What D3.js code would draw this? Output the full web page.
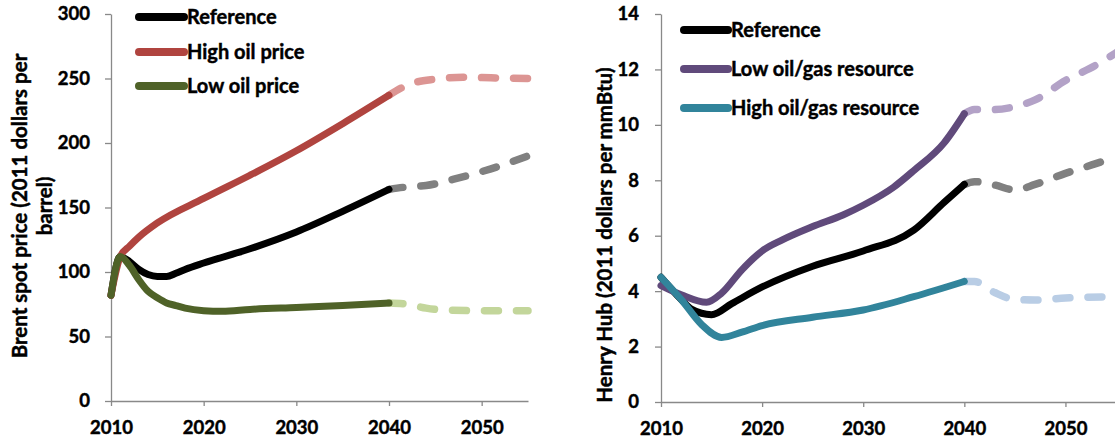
<!DOCTYPE html>
<html><head><meta charset="utf-8">
<script src="https://cdn.jsdelivr.net/npm/d3@7"></script>
<style>
html,body{margin:0;padding:0;background:#fff;overflow:hidden;}
svg{display:block;font-family:Lato,"Open Sans",sans-serif;font-weight:700;}
svg text{stroke:#000;stroke-width:0.45px;}
</style></head><body>
<svg id="chart" width="1115" height="442"></svg>
<script>
// ---------- Left panel: Brent spot price ----------
const xTicks = [2010, 2020, 2030, 2040, 2050];
const oilTicks = [0, 50, 100, 150, 200, 250, 300];
const oilLegend = ["Reference", "High oil price", "Low oil price"];
const oilTitle = ["Brent spot price (2011 dollars per", "barrel)"];

const refOilYears = [2010, 2011, 2012, 2013, 2014, 2015, 2016, 2017, 2018, 2020, 2025, 2030, 2035, 2040];
const refOil      = [82,   112,  108,  102,  98,   96.5, 96.5, 99,   102,  107,  118,  131,  147,  164];
const highOilYears = [2010, 2011, 2012, 2013, 2015, 2020, 2025, 2030, 2035, 2040];
const highOil      = [82,   112,  120,  127,  138,  157,  175,  194,  215,  237];
const lowOilYears = [2010, 2011, 2012, 2013, 2014, 2015, 2016, 2017, 2018, 2020, 2022, 2025, 2030, 2035, 2040];
const lowOil      = [82,   112,  105,  94,   85,   80,   76,   74,   72,   70,   69.5, 71,   72.5, 74,   76];

const refOilProjYears = [2040, 2042, 2044, 2047, 2051, 2055];
const refOilProj      = [164,  166,  167,  172,  180,  190];
const highOilProjYears = [2040, 2042, 2045, 2048, 2051, 2055];
const highOilProj      = [237,  245,  249.5, 251, 250.5, 250];
const lowOilProjYears = [2040, 2042, 2044, 2046, 2050, 2055];
const lowOilProj      = [76,   75,   72,   70.5, 70,   70];

// ---------- Right panel: Henry Hub ----------
const gasTicks = [0, 2, 4, 6, 8, 10, 12, 14];
const gasLegend = ["Reference", "Low oil/gas resource", "High oil/gas resource"];
const gasTitle = ["Henry Hub (2011 dollars per mmBtu)"];

const refGasYears = [2010, 2012, 2013, 2015, 2017, 2020, 2025, 2030, 2035, 2038, 2040];
const refGas      = [4.5,  3.7,  3.35, 3.15, 3.55, 4.15, 4.9,  5.45, 6.2,  7.2,  7.85];
const lowGasYears = [2010, 2012, 2014.5, 2016, 2018, 2020, 2022, 2025, 2028, 2030, 2033, 2035, 2038, 2040];
const lowGas      = [4.2,  3.87, 3.6,    3.93, 4.77, 5.45, 5.85, 6.33, 6.75, 7.1,  7.75, 8.35, 9.35, 10.4];
const highGasYears = [2010, 2012, 2014, 2016, 2018, 2020, 2025, 2030, 2035, 2040];
const highGas      = [4.5,  3.7,  2.8,  2.33, 2.52, 2.76, 3.06, 3.32, 3.8,  4.35];

const refGasProjYears = [2040, 2041, 2043, 2045, 2047, 2050, 2053, 2055];
const refGasProj      = [7.85, 7.95, 7.83, 7.65, 7.85, 8.25, 8.6,  8.85];
const lowGasProjYears = [2040, 2041, 2043, 2045, 2047, 2050, 2053, 2055];
const lowGasProj      = [10.4, 10.55, 10.55, 10.66, 10.9, 11.6, 12.15, 12.6];
const highGasProjYears = [2040, 2041, 2043, 2045, 2047, 2050, 2055];
const highGasProj      = [4.35, 4.35, 3.95, 3.7,  3.68, 3.75, 3.8];

const zip = (xs, ys) => xs.map((x, i) => [x, ys[i]]);
const svg = d3.select("#chart");

function panel(cfg) {
  const x = d3.scaleLinear().domain([2010, 2055]).range(cfg.xr);
  const y = d3.scaleLinear().domain(cfg.yd).range(cfg.yr);
  const g = svg.append("g");
  const axisColor = "#898989";

  const yAxis = g.append("g").attr("transform", `translate(${cfg.xr[0]},0)`)
    .call(d3.axisLeft(y).tickValues(cfg.yTicks).tickSize(6).tickSizeOuter(0).tickPadding(cfg.yPad));
  const xAxis = g.append("g").attr("transform", `translate(0,${cfg.yr[0]})`)
    .call(d3.axisBottom(x).tickValues(xTicks).tickSize(5).tickSizeOuter(0).tickFormat(d3.format("d")));
  [yAxis, xAxis].forEach(a => {
    a.select(".domain").attr("stroke", axisColor).attr("stroke-width", 1.3);
    a.selectAll(".tick line").attr("stroke", axisColor).attr("stroke-width", 1.3);
    a.selectAll("text").attr("fill", "#000").style("font-size", "18.5px").style("font-family", "Lato, sans-serif").style("font-weight", 700);
  });
  xAxis.selectAll("text").attr("y", 27).attr("dy", "0.35em");

  const line = d3.line().x(d => x(d[0])).y(d => y(d[1])).curve(d3.curveMonotoneX);

  cfg.series.forEach(s => {
    g.append("path").datum(s.proj).attr("d", line).attr("fill", "none")
      .attr("stroke", s.light).attr("stroke-width", 7.5).attr("stroke-linecap", "round")
      .attr("stroke-dasharray", "14,18");
  });
  cfg.series.forEach(s => {
    g.append("path").datum(s.data).attr("d", line).attr("fill", "none")
      .attr("stroke", s.color).attr("stroke-width", 7).attr("stroke-linecap", "round")
      .attr("stroke-linejoin", "round");
  });

  // legend
  const lg = g.append("g");
  cfg.legend.forEach((name, i) => {
    const ly = cfg.legY[i];
    lg.append("line").attr("x1", cfg.legX[0]).attr("x2", cfg.legX[1]).attr("y1", ly).attr("y2", ly)
      .attr("stroke", cfg.series[i].color).attr("stroke-width", 8).attr("stroke-linecap", "round");
    lg.append("text").attr("x", cfg.legX[1] + 3).attr("y", ly).attr("dy", "0.35em")
      .style("font-size", "20px").attr("fill", "#000").text(name);
  });

  // title
  cfg.title.forEach((t, i) => {
    g.append("text").attr("transform", `translate(${cfg.titleX[i]},${cfg.titleY}) rotate(-90)`)
      .attr("text-anchor", "middle").attr("dy", "0.35em")
      .style("font-size", "20.5px").attr("fill", "#000").text(t);
  });
}

panel({
  xr: [111, 528], yd: [0, 300], yr: [401, 14], yTicks: oilTicks, yPad: 15,
  legend: oilLegend, legX: [139, 184], legY: [17, 52, 86],
  title: oilTitle, titleX: [20, 45], titleY: 206,
  series: [
    {data: zip(refOilYears, refOil), proj: zip(refOilProjYears, refOilProj), color: "#000000", light: "#808080"},
    {data: zip(highOilYears, highOil), proj: zip(highOilProjYears, highOilProj), color: "#b0443f", light: "#dc9593"},
    {data: zip(lowOilYears, lowOil), proj: zip(lowOilProjYears, lowOilProj), color: "#4f6228", light: "#c3d69b"}
  ]
});

panel({
  xr: [661, 1116], yd: [0, 14], yr: [402, 14], yTicks: gasTicks, yPad: 16,
  legend: gasLegend, legX: [684, 728], legY: [30, 69, 108],
  title: gasTitle, titleX: [605], titleY: 235,
  series: [
    {data: zip(refGasYears, refGas), proj: zip(refGasProjYears, refGasProj), color: "#000000", light: "#808080"},
    {data: zip(lowGasYears, lowGas), proj: zip(lowGasProjYears, lowGasProj), color: "#604a7b", light: "#b3a2c7"},
    {data: zip(highGasYears, highGas), proj: zip(highGasProjYears, highGasProj), color: "#31849b", light: "#b9cde5"}
  ]
});
</script>
</body></html>
